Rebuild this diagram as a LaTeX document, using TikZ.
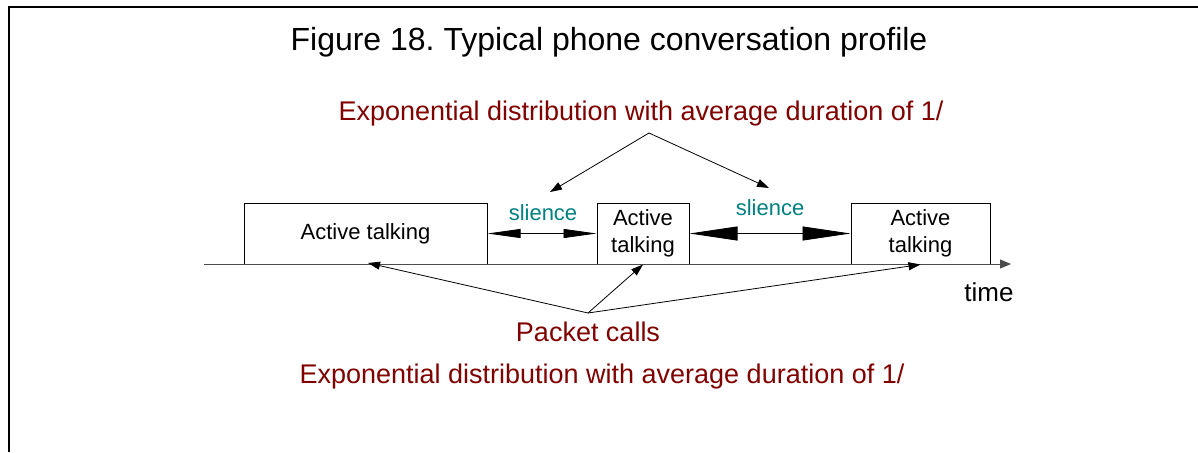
\documentclass[tikz,border=0pt]{standalone}
\usepackage{fontspec}
\setmainfont{Liberation Sans}
\usetikzlibrary{arrows.meta}
\definecolor{darkred}{RGB}{128,0,0}
\definecolor{tealgreen}{RGB}{0,128,128}
\frenchspacing

\begin{document}
\begin{tikzpicture}[x=1pt,y=-1pt]
\tikzset{talkbox/.style={draw, line width=1pt, inner sep=0pt, minimum height=61pt, align=center, font=\fontsize{22}{27}\selectfont},
  redtext/.style={text=darkred, font=\fontsize{27}{31}\selectfont, anchor=base},
  silencetext/.style={text=tealgreen, font=\fontsize{22}{26}\selectfont, anchor=base},
  pointer/.style={line width=0.8pt, -{Triangle[length=12pt,width=8pt]}}}
    \useasboundingbox (0,0) rectangle (1198,452);
    \draw[line width=2pt] (9,452) -- (9,7.5) -- (1198,7.5);

    \node[anchor=base, font=\fontsize{32}{37}\selectfont] at (609,51) (title) {Figure 18. Typical phone conversation profile};
    \node[redtext] at (641,120) (exptop) {Exponential distribution with average duration of 1/};
    \node[redtext] at (588,341) (packet) {Packet calls};
    \node[redtext] at (602,383) (expbot) {Exponential distribution with average duration of 1/};

    \node[talkbox, minimum width=243pt] at (365.5,233.5) (talk1) {Active talking};
    \node[talkbox, minimum width=92pt] at (643,233.5) (talk2) {Active\\talking};
    \node[talkbox, minimum width=139pt] at (920.5,233.5) (talk3) {Active\\talking};

    \node[silencetext] at (543,220) (sil1) {slience};
    \node[silencetext] at (770,215) (sil2) {slience};
    \node[anchor=base, font=\fontsize{26}{30}\selectfont] at (989,301) (time) {time};

    \coordinate (t0) at (204,264);
    \coordinate (t1) at (1011,264);
    \coordinate (topapex) at (649,133);
    \coordinate (topl) at (550,192);
    \coordinate (topr) at (769,188);
    \coordinate (pkapex) at (588,313);
    \coordinate (pk1) at (368,263);

    \draw[black!70, line width=1pt, -{Triangle[length=11pt,width=9pt]}] (t0) -- (t1);
    \path[line width=0.8pt, {Triangle[length=33pt,width=9pt]}-{Triangle[length=33pt,width=9pt]}] (talk1.east) edge (talk2.west);
    \path[line width=0.8pt, {Triangle[length=48pt,width=14pt]}-{Triangle[length=48pt,width=14pt]}] (talk2.east) edge (talk3.west);

    \path[pointer] (topapex) edge (topl);
    \path[pointer] (topapex) edge (topr);
    \path[pointer] (pkapex) edge (pk1);
    \path[pointer] (pkapex) edge (talk2.south);
    \path[pointer] (pkapex) edge (talk3.south);
  \end{tikzpicture}
\end{document}
